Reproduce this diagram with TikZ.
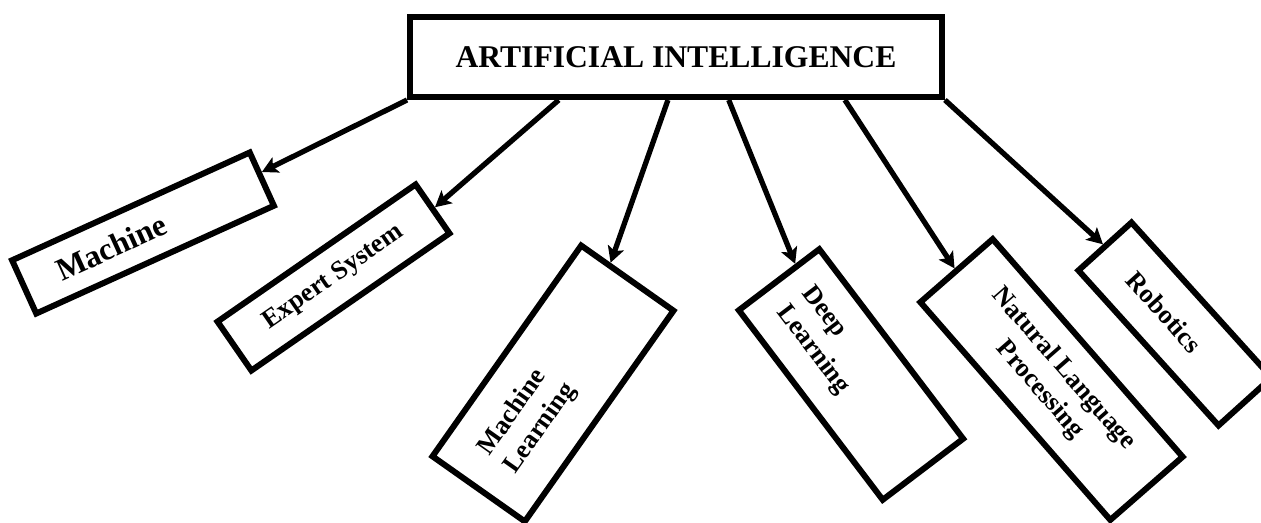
\documentclass[tikz,border=0pt]{standalone}
\usepackage{fontspec}
\setmainfont{Liberation Serif}
\usepackage{tikz}
\usetikzlibrary{arrows.meta,calc}

\begin{document}
\begin{tikzpicture}[
  x=0.02cm, y=-0.02cm,
  topbox/.style={rectangle, draw, line width=3.4pt, inner sep=0pt,
              minimum width=10.64cm, minimum height=1.6cm,
              font=\bfseries\fontsize{18}{21}\selectfont},
  subbox/.style={rectangle, draw, line width=3.4pt, inner sep=0pt,
              font=\bfseries\fontsize{15}{18}\selectfont},
  arr/.style={-{Stealth[length=9pt, width=9.5pt, inset=2pt]}, line width=3pt}
]
\useasboundingbox (0,0) rectangle (1261,522);
\clip (0,0) rectangle (1261,522);

\node[topbox] (ai) at (676,57) {ARTIFICIAL INTELLIGENCE};

%% branches
\node[subbox, rotate=24.4, minimum width=5.22cm, minimum height=1.17cm,
      text width=3.74cm, align=left, font=\bfseries\fontsize{18}{21}\selectfont]
      (mach) at (143,233) {Machine};
\node[subbox, rotate=34.7, minimum width=4.82cm, minimum height=1.19cm,
      align=center] (exp) at (333.5,277.5) {Expert System};
\node[subbox, rotate=54.8, minimum width=5.16cm, minimum height=2.26cm,
      text width=3.84cm, align=left] (ml) at (553,383.5) {Machine\\Learning};
\node[subbox, rotate=-52.8, minimum width=4.76cm, minimum height=2.02cm,
      text width=3.78cm, align=left] (dl) at (851,374.5) {Deep\\Learning};
\node[subbox, rotate=-48.9, minimum width=5.78cm, minimum height=1.92cm,
      align=center] (nlp) at (1051.5,379.5) {Natural Language\\Processing};
\node[subbox, rotate=-47.9, minimum width=4.18cm, minimum height=1.43cm,
      text width=2.6cm, align=left] (rob) at (1175,324) {Robotics};

%% arrows
\draw[arr] (ai.south west) -- ($(mach.north east)!0.4!(mach.south east)$);
\draw[arr] ($(ai.south west)!0.282!(ai.south east)$) -- (exp.east);
\draw[arr] ($(ai.south west)!0.485!(ai.south east)$) -- ($(ml.north east)!0.31!(ml.south east)$);
\draw[arr] ($(ai.south west)!0.598!(ai.south east)$) -- ($(dl.north west)!0.29!(dl.south west)$);
\draw[arr] ($(ai.south west)!0.814!(ai.south east)$) -- (nlp.west);
\draw[arr] (ai.south east) -- (rob.west);

\end{tikzpicture}
\end{document}
